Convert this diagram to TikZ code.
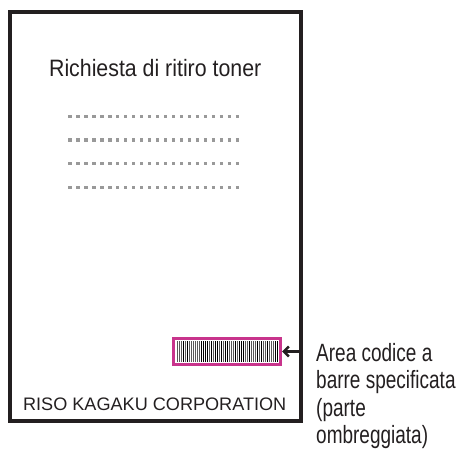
\documentclass[tikz,border=0pt]{standalone}
\usepackage{fontspec}
\setmainfont{Liberation Sans}
\newfontfamily\titlefont[FakeStretch=0.9]{Liberation Sans}
\newfontfamily\notefont[FakeStretch=0.76]{Liberation Sans}
\usepackage{tikz}
\usetikzlibrary{calc,positioning,arrows.meta}
\definecolor{ink}{HTML}{231F20}
\definecolor{codepink}{HTML}{C8348C}

\begin{document}
\begin{tikzpicture}[x=1pt, y=-1pt,
          sheet/.style={draw=ink, line width=4pt},
          dotrow/.style={draw=black!40, line width=3.3pt, dash pattern=on 3.3pt off 4.68pt},
          codebox/.style={draw=codepink, fill=white, line width=2.6pt, minimum width=107.5pt, minimum height=26.5pt, inner sep=0pt},
          pointer/.style={draw=ink, line width=2.5pt, -{Straight Barb[length=5pt, width=10pt]}},
        ]
        \useasboundingbox (0,0) rectangle (458,448);
        \draw[sheet] (10,12) rectangle (300.5,420.5);
        \node[ink, font=\titlefont\fontsize{23.7}{26}\selectfont, anchor=base] (title) at (155.2,76) {Richiesta di ritiro toner};
        \foreach \y [count=\r] in {116.5,140,163.7,187.3}
          \draw[dotrow] (68.3,\y) coordinate (row\r) -- (240,\y);
        \node[codebox] (code) at (227,351.5) {};
        % bars of the code area
        \pgfmathsetseed{11}
        \foreach \i in {0,...,50}{
          \pgfmathsetmacro\w{0.7+1.3*rnd}
          \pgfmathsetmacro\g{rnd<0.4 ? 100 : 65}
          \fill[black!\g] ({176.5+2*\i},341) rectangle ++(\w,21);
        }
        \node[ink, font=\fontsize{18.1}{20}\selectfont, anchor=base] (maker) at (154.7,410.7) {RISO KAGAKU CORPORATION};
        \coordinate (pin) at (301,351.5);
        \draw[pointer] (pin) -- (code.east);
        % base of a multi-line node is the last line
        \node[ink, font=\notefont\fontsize{25}{27.2}\selectfont, align=left, anchor=base west, inner sep=0pt] (note) at (316,443.3) {Area codice a\\barre specificata\\(parte\\ombreggiata)};
      \end{tikzpicture}
\end{document}
